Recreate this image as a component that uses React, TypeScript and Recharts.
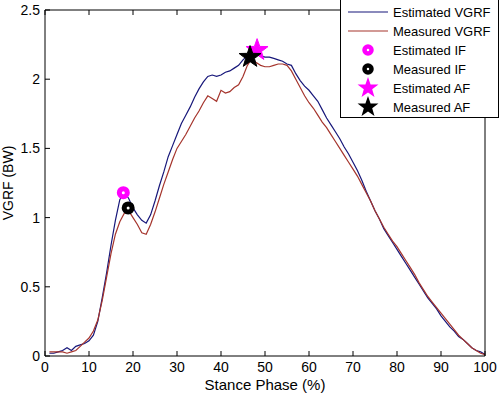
import { ComposedChart, Label, Legend, Line, Scatter, XAxis, YAxis } from 'recharts';

const FONT = 'Arial, "Liberation Sans", sans-serif';

// stance phase samples, 1..100 %
const phase = Array.from({ length: 100 }, (_, i) => i + 1);

const estimatedVGRF = [
  0.02, 0.02, 0.03, 0.04, 0.06, 0.04, 0.07, 0.08, 0.09, 0.11,
  0.15, 0.25, 0.42, 0.6, 0.8, 0.98, 1.13, 1.18, 1.14, 1.07,
  1.02, 0.98, 0.96, 1.02, 1.12, 1.23, 1.33, 1.44, 1.52, 1.6,
  1.68, 1.74, 1.8, 1.87, 1.93, 1.98, 2.02, 2.03, 2.02, 2.03,
  2.05, 2.06, 2.08, 2.1, 2.14, 2.17, 2.19, 2.2, 2.17, 2.16,
  2.16, 2.15, 2.14, 2.13, 2.11, 2.1, 2.04, 1.99, 1.95, 1.92,
  1.88, 1.84, 1.78, 1.72, 1.67, 1.62, 1.57, 1.51, 1.46, 1.4,
  1.34, 1.27, 1.19, 1.12, 1.05, 0.99, 0.92, 0.87, 0.82, 0.77,
  0.72, 0.67, 0.62, 0.57, 0.52, 0.47, 0.42, 0.38, 0.34, 0.29,
  0.25, 0.21, 0.18, 0.14, 0.12, 0.09, 0.06, 0.04, 0.03, 0.01,
];

const measuredVGRF = [
  0.03, 0.03, 0.03, 0.03, 0.02, 0.03, 0.04, 0.07, 0.1, 0.13,
  0.18, 0.26, 0.4, 0.57, 0.74, 0.88, 0.97, 1.03, 1.05, 1.0,
  0.95, 0.89, 0.88, 0.95, 1.04, 1.14, 1.24, 1.33, 1.42, 1.5,
  1.55, 1.6, 1.66, 1.72, 1.77, 1.83, 1.88, 1.86, 1.84, 1.92,
  1.9, 1.91, 1.94, 1.96, 2.02, 2.1, 2.15, 2.12, 2.1, 2.09,
  2.09, 2.1, 2.11, 2.11, 2.1, 2.06, 2.0, 1.94, 1.88, 1.83,
  1.79, 1.74, 1.69, 1.65, 1.6, 1.55, 1.5, 1.45, 1.4, 1.35,
  1.3, 1.24, 1.18, 1.12, 1.05, 0.99, 0.93, 0.88, 0.83, 0.79,
  0.74, 0.69, 0.64, 0.59, 0.53, 0.48, 0.43, 0.39, 0.35, 0.31,
  0.27, 0.23, 0.19, 0.15, 0.12, 0.09, 0.06, 0.04, 0.02, 0.01,
];

const estimatedIF = [{ phase: 17.8, vgrf: 1.18 }];
const measuredIF = [{ phase: 18.9, vgrf: 1.07 }];
const estimatedAF = [{ phase: 48.2, vgrf: 2.21 }];
const measuredAF = [{ phase: 46.6, vgrf: 2.16 }];

const xTicks = [0, 10, 20, 30, 40, 50, 60, 70, 80, 90, 100];
const yTicks = [0, 0.5, 1, 1.5, 2, 2.5];

const legendNames = ['Estimated VGRF', 'Measured VGRF', 'Estimated IF', 'Measured IF', 'Estimated AF', 'Measured AF'];

const data = phase.map((p, i) => ({ phase: p, estimated: estimatedVGRF[i], measured: measuredVGRF[i] }));

const BLUE = '#17177a';
const RED = '#a5342c';
const MAGENTA = '#ff00ff';

function starPoints(cx: number, cy: number, R: number, r: number) {
  const pts: string[] = [];
  for (let k = 0; k < 10; k++) {
    const a = -Math.PI / 2 + (k * Math.PI) / 5;
    const rad = k % 2 === 0 ? R : r;
    pts.push(`${cx + rad * Math.cos(a)},${cy + rad * Math.sin(a)}`);
  }
  return pts.join(' ');
}

const Ring = (color: string) => (p: any) => (
  <circle cx={p.cx} cy={p.cy} r={4} fill="#fff" stroke={color} strokeWidth={5} />
);
const StarShape = (color: string) => (p: any) => (
  <polygon points={starPoints(p.cx, p.cy, 11.5, 4.6)} fill={color} stroke={color} />
);

// axis boxes: the axis line sits on the plot edge, ticks point inward
function BottomTick({ x, y, payload }: any) {
  return (
    <g>
      <line x1={x} y1={y} x2={x} y2={y - 5} stroke="#000" />
      <text x={x} y={y + 16} textAnchor="middle" fontSize={14} fontFamily={FONT} fill="#000">{payload.value}</text>
    </g>
  );
}
function TopTick({ x, y }: any) {
  return <line x1={x} y1={y} x2={x} y2={y + 5} stroke="#000" />;
}
function LeftTick({ x, y, payload }: any) {
  return (
    <g>
      <line x1={x} y1={y} x2={x + 5} y2={y} stroke="#000" />
      <text x={x - 5} y={y + 5} textAnchor="end" fontSize={14} fontFamily={FONT} fill="#000">{payload.value}</text>
    </g>
  );
}
function RightTick({ x, y }: any) {
  return <line x1={x} y1={y} x2={x - 5} y2={y} stroke="#000" />;
}

function LegendBox() {
  const icons = [
    <line x1={8} y1={0} x2={48} y2={0} stroke={BLUE} strokeWidth={1.2} />,
    <line x1={8} y1={0} x2={48} y2={0} stroke={RED} strokeWidth={1.2} />,
    <circle cx={28} cy={0} r={3.5} fill="#fff" stroke={MAGENTA} strokeWidth={4.5} />,
    <circle cx={28} cy={0} r={3.5} fill="#fff" stroke="#000" strokeWidth={4.5} />,
    <polygon points={starPoints(28, 0, 11, 4.4)} fill={MAGENTA} />,
    <polygon points={starPoints(28, 0, 11, 4.4)} fill="#000" />,
  ];
  return (
    <svg width={160} height={120} style={{ display: 'block' }}>
      <rect x={0.5} y={0.5} width={158} height={118} fill="#fff" stroke="#000" />
      {legendNames.map((name, i) => (
        <g key={name} transform={`translate(0, ${13 + i * 19})`}>
          {icons[i]}
          <text x={53} y={5} fontSize={13} fontFamily={FONT} fill="#000">{name}</text>
        </g>
      ))}
    </svg>
  );
}

export default function App() {
  return (
    <div style={{ position: 'absolute', left: 0, top: 0, width: 500, height: 394, background: '#fff' }}>
      <ComposedChart width={500} height={394} data={data} margin={{ top: 9, right: 14, bottom: 0, left: 0 }}>
        <XAxis
          dataKey="phase"
          type="number"
          domain={[0, 100]}
          ticks={xTicks}
          height={38}
          tickSize={0}
          tickMargin={0}
          tick={<BottomTick />}
          stroke="#000"
          interval={0}
        >
          <Label
            content={({ viewBox }: any) => (
              <text x={viewBox.x + viewBox.width / 2} y={viewBox.y + 34} textAnchor="middle" fontSize={15} fontFamily={FONT} fill="#000">
                Stance Phase (%)
              </text>
            )}
          />
        </XAxis>
        <XAxis xAxisId="top" orientation="top" dataKey="phase" type="number" domain={[0, 100]} ticks={xTicks} height={1} tickSize={0} tickMargin={0} tick={<TopTick />} stroke="#000" interval={0} />
        <YAxis
          type="number"
          domain={[0, 2.5]}
          ticks={yTicks}
          width={45}
          tickSize={0}
          tickMargin={0}
          tick={<LeftTick />}
          stroke="#000"
          interval={0}
        >
          <Label
            content={({ viewBox }: any) => {
              const cx = viewBox.x + 13;
              const cy = viewBox.y + viewBox.height / 2;
              return (
                <text x={cx} y={cy} transform={`rotate(-90, ${cx}, ${cy})`} textAnchor="middle" fontSize={14} fontFamily={FONT} fill="#000">
                  VGRF (BW)
                </text>
              );
            }}
          />
        </YAxis>
        <YAxis yAxisId="right" orientation="right" type="number" domain={[0, 2.5]} ticks={yTicks} width={1} tickSize={0} tickMargin={0} tick={<RightTick />} stroke="#000" interval={0} />
        <Line type="linear" dataKey="estimated" stroke={BLUE} strokeWidth={1.2} dot={false} isAnimationActive={false} />
        <Line type="linear" dataKey="measured" stroke={RED} strokeWidth={1.2} dot={false} isAnimationActive={false} />
        <Scatter data={estimatedIF} dataKey="vgrf" shape={Ring(MAGENTA)} isAnimationActive={false} />
        <Scatter data={measuredIF} dataKey="vgrf" shape={Ring('#000')} isAnimationActive={false} />
        <Scatter data={estimatedAF} dataKey="vgrf" shape={StarShape(MAGENTA)} isAnimationActive={false} />
        <Scatter data={measuredAF} dataKey="vgrf" shape={StarShape('#000')} isAnimationActive={false} />
        <Legend
          layout="horizontal"
          verticalAlign="middle"
          align="center"
          content={() => <LegendBox />}
          wrapperStyle={{ position: 'absolute', left: 340, top: -1, width: 160, height: 120 }}
        />
      </ComposedChart>
    </div>
  );
}
